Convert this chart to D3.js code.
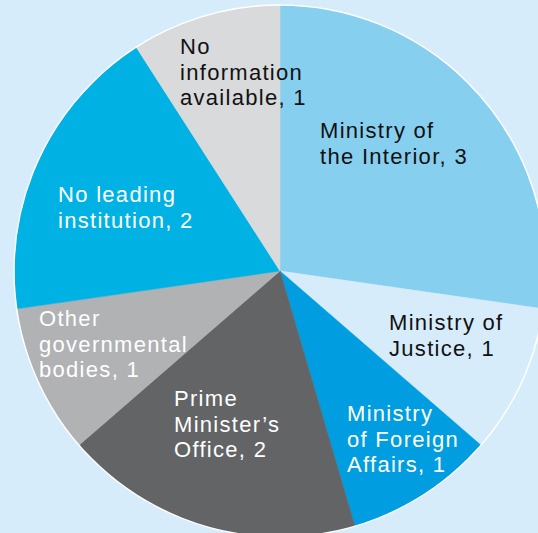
<!DOCTYPE html>
<html>
<head>
<meta charset="utf-8">
<script src="https://cdn.jsdelivr.net/npm/d3@7"></script>
<style>
  html, body { margin: 0; padding: 0; background: #d6ecfa; }
  svg { display: block; }
</style>
</head>
<body>
<svg id="chart" width="538" height="533"></svg>
<script>
// ---- data ----
const categories = [
  "Ministry of the Interior",
  "Ministry of Justice",
  "Ministry of Foreign Affairs",
  "Prime Minister’s Office",
  "Other governmental bodies",
  "No leading institution",
  "No information available"
];
const values = [3, 1, 1, 2, 1, 2, 1];
const labelLines = [
  ["Ministry of", "the Interior, 3"],
  ["Ministry of", "Justice, 1"],
  ["Ministry", "of Foreign", "Affairs, 1"],
  ["Prime", "Minister’s", "Office, 2"],
  ["Other", "governmental", "bodies, 1"],
  ["No leading", "institution, 2"],
  ["No", "information", "available, 1"]
];

// ---- styling / layout ----
const colors = ["#87cfef", "#d6ecfa", "#009ee0", "#636466", "#b1b2b4", "#00b2e3", "#d9dadb"];
const textColors = ["#111", "#111", "#fff", "#fff", "#fff", "#fff", "#111"];
// top-left of label block: x, first baseline y (relative to svg)
const labelPos = [
  [320, 138], [389, 330], [347, 421], [174, 406], [39, 326], [58, 202], [180, 54]
];
const lineHeight = 25.5;

const cx = 280, cy = 271, R = 266;
const svg = d3.select("#chart");

const pie = d3.pie().sort(null).value(d => d)(values);
const arc = d3.arc().innerRadius(0).outerRadius(R);

const g = svg.append("g").attr("transform", `translate(${cx},${cy})`);
g.selectAll("path.slice")
  .data(pie)
  .join("path")
  .attr("class", "slice")
  .attr("d", arc)
  .attr("fill", (d, i) => colors[i])
  .attr("stroke", (d, i) => colors[i])
  .attr("stroke-width", 0.5);

g.append("circle")
  .attr("r", R)
  .attr("fill", "none")
  .attr("stroke", "#ffffff")
  .attr("stroke-width", 1.5);

const labels = svg.selectAll("text.lbl")
  .data(categories)
  .join("text")
  .attr("class", "lbl")
  .attr("x", (d, i) => labelPos[i][0])
  .attr("y", (d, i) => labelPos[i][1])
  .attr("fill", (d, i) => textColors[i])
  .style("font-family", "'Liberation Sans', Arial, sans-serif")
  .style("font-size", "22px")
  .style("letter-spacing", "1.3px");

labels.each(function(d, i) {
  d3.select(this).selectAll("tspan")
    .data(labelLines[i])
    .join("tspan")
    .attr("x", labelPos[i][0])
    .attr("dy", (t, j) => j === 0 ? 0 : lineHeight)
    .text(t => t);
});
</script>
</body>
</html>
